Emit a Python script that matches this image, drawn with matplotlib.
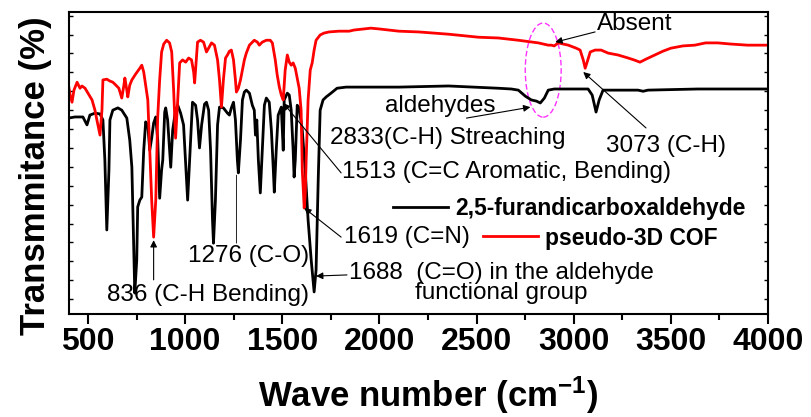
import matplotlib as mpl
mpl.use('Agg')
import matplotlib.pyplot as plt
from matplotlib.patches import Ellipse
from matplotlib.ticker import MultipleLocator

# FTIR spectra, values (arbitrary transmittance units)
wn_ald = [400, 433, 474, 495, 510, 536, 562, 577, 587, 597, 608, 613, 628, 654, 674, 700,
          715, 726, 736, 741, 751, 756, 767, 777, 787, 797, 808, 818, 828, 838, 849, 859,
          869, 879, 885, 895, 900, 910, 920, 926, 936, 951, 962, 977, 992, 1003, 1013, 1023,
          1038, 1054, 1064, 1074, 1085, 1100, 1110, 1121, 1131, 1141, 1146, 1156, 1167, 1177,
          1197, 1218, 1228, 1238, 1249, 1259, 1269, 1274, 1285, 1295, 1305, 1315, 1331, 1346,
          1356, 1362, 1369, 1377, 1387, 1397, 1408, 1418, 1433, 1444, 1454, 1459, 1469, 1479,
          1495, 1505, 1510, 1526, 1536, 1546, 1556, 1561, 1567, 1577, 1587, 1603, 1618, 1633,
          1649, 1664, 1674, 1685, 1695, 1710, 1726, 1751, 1782, 1828, 2100, 2356, 2612, 2679,
          2715, 2751, 2782, 2808, 2828, 2849, 2869, 2900, 3074, 3095, 3115, 3131, 3151, 3331,
          3357, 3382, 3638, 4000]
t_ald = [52.9, 53.2, 53.2, 51.1, 53.7, 54.2, 54.0, 52.4, 41.8, 23.3, 39.2, 52.4, 55.0, 55.6,
         55.0, 52.9, 47.1, 39.9, 18.0, 6.6, 15.3, 29.4, 31.2, 32.0, 44.4, 51.9, 51.1, 44.4,
         47.6, 51.6, 53.2, 47.1, 31.7, 39.2, 41.8, 54.5, 55.6, 52.4, 44.4, 39.9, 49.7, 55.0,
         56.3, 54.2, 51.1, 40.5, 31.2, 41.8, 57.1, 56.3, 52.4, 45.0, 51.1, 56.6, 57.1, 55.0,
         44.4, 25.9, 19.8, 31.2, 51.1, 55.8, 55.6, 54.2, 53.7, 55.6, 57.1, 52.4, 41.8, 38.4,
         47.1, 57.7, 59.8, 60.3, 59.5, 56.3, 55.0, 48.4, 52.4, 41.8, 33.1, 44.4, 56.3, 58.2,
         57.1, 49.7, 39.2, 33.3, 44.4, 53.7, 55.8, 44.4, 57.7, 59.5, 59.0, 55.0, 44.4, 37.3,
         41.8, 56.3, 55.6, 49.7, 39.2, 25.9, 15.3, 6.9, 12.7, 36.5, 55.0, 57.7, 58.5, 59.5,
         60.8, 61.1, 61.1, 61.4, 60.8, 60.6, 60.3, 58.7, 57.7, 57.4, 56.9, 58.2, 60.3, 60.6,
         60.6, 59.0, 54.5, 57.7, 60.3, 60.3, 60.0, 60.3, 60.6, 60.6]

wn_cof = [400, 408, 418, 428, 444, 459, 469, 485, 500, 521, 536, 546, 562, 572, 577, 597,
          613, 628, 644, 659, 674, 685, 690, 700, 705, 715, 726, 746, 767, 777, 787, 797,
          808, 818, 828, 838, 849, 859, 869, 879, 890, 905, 920, 931, 941, 951, 962, 972,
          987, 1003, 1018, 1033, 1044, 1049, 1059, 1064, 1079, 1095, 1110, 1121, 1136, 1151,
          1167, 1177, 1187, 1197, 1208, 1218, 1228, 1238, 1249, 1259, 1264, 1274, 1285, 1295,
          1305, 1315, 1331, 1356, 1372, 1382, 1397, 1418, 1438, 1449, 1464, 1474, 1485, 1495,
          1505, 1515, 1526, 1536, 1546, 1556, 1567, 1577, 1587, 1597, 1603, 1613, 1618, 1623,
          1633, 1644, 1654, 1664, 1674, 1695, 1715, 1741, 1792, 1844, 1869, 1920, 1956, 1997,
          2100, 2202, 2356, 2510, 2612, 2715, 2818, 2869, 2885, 2900, 2920, 2972, 3013, 3033,
          3049, 3059, 3069, 3085, 3110, 3141, 3177, 3228, 3280, 3310, 3341, 3372, 3418, 3459,
          3500, 3562, 3623, 3679, 3741, 3807, 3895, 4000]
t_cof = [61.6, 59.0, 57.1, 60.3, 62.4, 60.8, 61.4, 60.8, 59.5, 57.7, 55.0, 52.4, 48.4, 55.0,
         63.0, 63.2, 62.7, 62.4, 61.6, 60.8, 58.2, 61.6, 63.5, 60.3, 58.5, 61.6, 63.0, 64.6,
         66.1, 66.9, 65.1, 61.6, 57.7, 44.4, 31.2, 21.4, 31.2, 53.2, 63.0, 70.4, 72.5, 73.5,
         72.8, 70.4, 60.3, 47.6, 57.7, 67.5, 68.3, 67.7, 68.8, 68.3, 65.1, 62.2, 69.6, 73.0,
         73.5, 73.0, 70.4, 71.4, 72.8, 72.2, 68.3, 63.0, 55.8, 63.0, 68.8, 69.6, 70.6, 70.9,
         68.3, 63.0, 59.8, 60.8, 63.0, 65.6, 68.3, 70.1, 72.2, 73.5, 73.0, 72.2, 73.0, 73.5,
         73.5, 72.8, 68.3, 64.3, 61.1, 59.0, 57.7, 65.6, 69.6, 67.7, 66.9, 67.5, 66.1, 63.5,
         60.8, 55.0, 39.2, 29.1, 32.5, 41.8, 57.7, 65.6, 67.5, 70.9, 73.5, 74.9, 75.4, 75.7,
         75.9, 75.9, 76.2, 76.5, 76.7, 76.5, 75.9, 75.7, 75.1, 74.3, 74.1, 73.5, 72.8, 72.2,
         72.2, 72.0, 72.8, 72.2, 71.4, 70.9, 68.3, 66.1, 67.7, 70.4, 70.9, 70.9, 70.1, 69.6,
         68.8, 68.3, 67.7, 68.5, 69.6, 70.6, 71.4, 72.0, 72.2, 72.8, 72.8, 72.5, 72.2, 72.2]

series_names = ['2,5-furandicarboxaldehyde', 'pseudo-3D COF']
x_ticks = [500, 1000, 1500, 2000, 2500, 3000, 3500, 4000]

ann_font = 'Liberation Sans'
big_font = ['Liberation Sans', 'DejaVu Sans']

# superscript in the x label uses the same Arial-like face
plt.rcParams['mathtext.fontset'] = 'custom'
plt.rcParams['mathtext.rm'] = 'Liberation Sans'
plt.rcParams['mathtext.bf'] = 'Liberation Sans:bold'

fig = plt.figure(figsize=(8.11, 4.17), dpi=100)
ax = fig.add_axes([0.0845, 0.247, 0.8625, 0.724])

l_ald, = ax.plot(wn_ald, t_ald, color='black', lw=2)
l_cof, = ax.plot(wn_cof, t_cof, color='red', lw=2)

ax.set_xlim(400, 4000)
ax.set_ylim(1.06, 80.95)
ax.set_xticks(x_ticks)
ax.set_xticklabels([str(t) for t in x_ticks], fontsize=23, fontweight='bold', family=big_font)
ax.xaxis.set_minor_locator(MultipleLocator(250))
ax.tick_params(axis='x', which='major', direction='out', length=7, width=1.5, pad=2)
ax.tick_params(axis='x', which='minor', direction='out', length=4.5, width=1.5)
ax.yaxis.set_major_locator(MultipleLocator(5))
ax.tick_params(axis='y', which='major', direction='in', length=3, width=1,
               left=True, right=True, labelleft=False)
for sp in ax.spines.values():
    sp.set_linewidth(1.5)

ax.set_ylabel('Transmmitance (%)', fontsize=25, fontweight='bold', family=big_font)
ax.yaxis.set_label_coords(-0.024, 0.459)
ax.set_xlabel(r'Wave number (cm$\mathbf{^{-1}}$)', fontsize=25, fontweight='bold',
              family=big_font)
ax.xaxis.set_label_coords(0.514, -0.2)

# legends drawn as two separate entries, offset like the original
leg1 = ax.legend([l_ald], [series_names[0]], loc='center left', bbox_to_anchor=(0.464, 0.351),
                 frameon=False, handlelength=2.4, handletextpad=0.3, borderpad=0,
                 borderaxespad=0, prop={'family': ann_font, 'weight': 'bold', 'size': 16.5})
ax.add_artist(leg1)
ax.legend([l_cof], [series_names[1]], loc='center left', bbox_to_anchor=(0.5926, 0.2517),
          frameon=False, handlelength=2.4, handletextpad=0.3, borderpad=0,
          borderaxespad=0, prop={'family': ann_font, 'weight': 'bold', 'size': 16.5})

arrow = dict(arrowstyle='-|>', color='black', lw=0.8, mutation_scale=10, shrinkA=0, shrinkB=0)
tfs = 17.5

ax.text(3316, 77.8, 'Absent', fontsize=tfs, family=ann_font, ha='center', va='center')
ax.annotate('', xy=(2905, 73.0), xytext=(3110, 75.7), arrowprops=arrow)

ax.text(2315, 56.1, 'aldehydes', fontsize=tfs, family=ann_font, ha='center', va='center')
ax.text(2351, 47.6, '2833(C-H) Streaching', fontsize=tfs, family=ann_font, ha='center', va='center')
ax.annotate('', xy=(2777, 55.8), xytext=(2448, 52.9), arrowprops=arrow)

ax.text(3474, 45.5, '3073 (C-H)', fontsize=tfs, family=ann_font, ha='center', va='center')
ax.annotate('', xy=(3049, 65.1), xytext=(3372, 50.3), arrowprops=arrow)

ax.text(1808, 38.6, '1513 (C=C Aromatic, Bending)', fontsize=tfs, family=ann_font,
        ha='left', va='center')
ax.annotate('', xy=(1505, 56.9), xytext=(1803, 38.4), arrowprops=arrow)

ax.text(1818, 21.4, '1619 (C=N)', fontsize=tfs, family=ann_font, ha='left', va='center')
ax.annotate('', xy=(1613, 29.1), xytext=(1803, 21.4), arrowprops=arrow)

ax.text(2628, 9.3, '1688  (C=O) in the aldehyde\nfunctional group', fontsize=tfs,
        family=ann_font, ha='center', va='center', multialignment='center', linespacing=0.9)
ax.annotate('', xy=(1674, 11.1), xytext=(1833, 11.4), arrowprops=arrow)

ax.text(1326, 16.4, '1276 (C-O)', fontsize=tfs, family=ann_font, ha='center', va='center')
ax.annotate('', xy=(1264, 37.8), xytext=(1264, 19.8),
            arrowprops=dict(arrowstyle='-', color='black', lw=0.6, shrinkA=0, shrinkB=0))

ax.text(1116, 6.1, '836 (C-H Bending)', fontsize=tfs, family=ann_font, ha='center', va='center')
ax.annotate('', xy=(838, 20.6), xytext=(838, 10.1), arrowprops=arrow)

ax.add_patch(Ellipse((2843, 65.6), 185, 24.9, fill=False, edgecolor='#ff33ff',
                     lw=1, ls=(0, (4, 2))))

fig.savefig('out.png', dpi=100)
